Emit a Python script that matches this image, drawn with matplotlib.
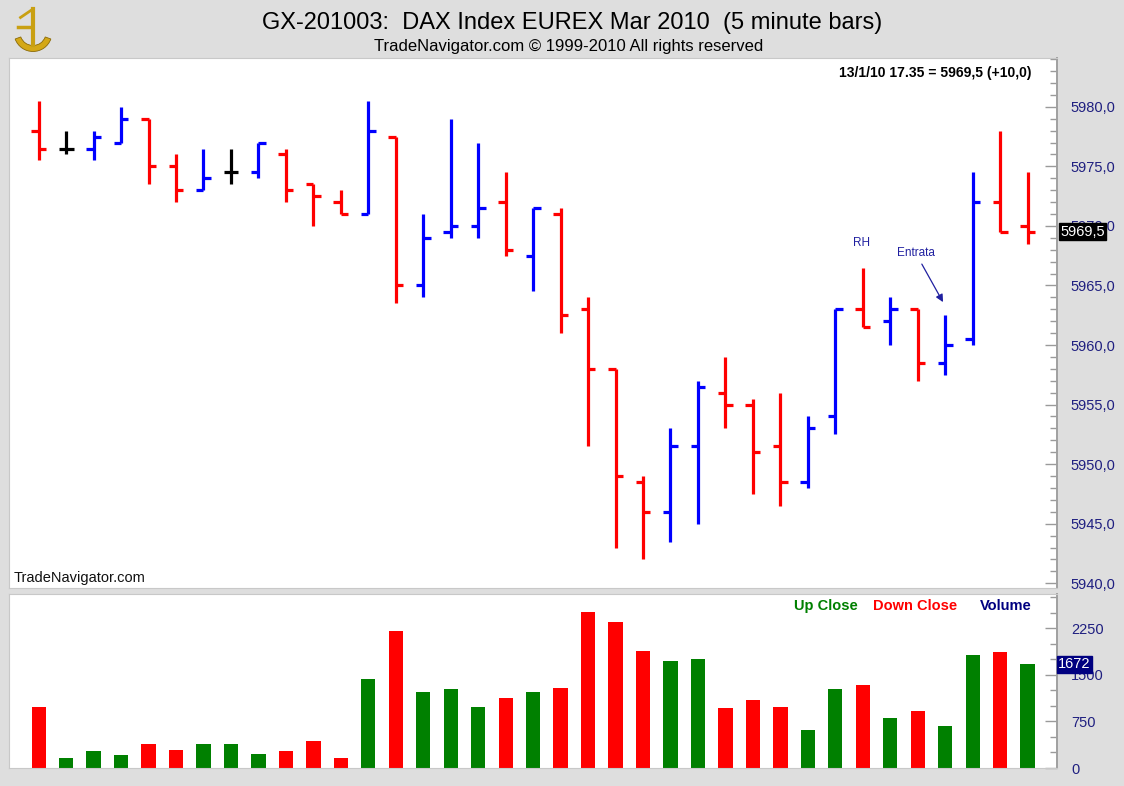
import matplotlib

matplotlib.use("Agg")
import matplotlib.pyplot as plt
import numpy as np
from matplotlib.patches import Wedge
from matplotlib.ticker import MultipleLocator

# 5 minute bars, DAX future Mar 2010 (13/1/10)
opens = [5978.0, 5976.5, 5976.5, 5977.0, 5979.0, 5975.0, 5973.0, 5974.5, 5974.5, 5976.0,
         5973.5, 5972.0, 5971.0, 5977.5, 5965.0, 5969.5, 5970.0, 5972.0, 5967.5, 5971.0,
         5963.0, 5958.0, 5948.5, 5946.0, 5951.5, 5956.0, 5955.0, 5951.5, 5948.5, 5954.0,
         5963.0, 5962.0, 5963.0, 5958.5, 5960.5, 5972.0, 5970.0]
highs = [5980.5, 5978.0, 5978.0, 5980.0, 5979.0, 5976.0, 5976.5, 5976.5, 5977.0, 5976.5,
         5973.5, 5973.0, 5980.5, 5977.5, 5971.0, 5979.0, 5977.0, 5974.5, 5971.5, 5971.5,
         5964.0, 5958.0, 5949.0, 5953.0, 5957.0, 5959.0, 5955.5, 5956.0, 5954.0, 5963.0,
         5966.5, 5964.0, 5963.0, 5962.5, 5974.5, 5978.0, 5974.5]
lows = [5975.5, 5976.0, 5975.5, 5977.0, 5973.5, 5972.0, 5973.0, 5973.5, 5974.0, 5972.0,
        5970.0, 5971.0, 5971.0, 5963.5, 5964.0, 5969.0, 5969.0, 5967.5, 5964.5, 5961.0,
        5951.5, 5943.0, 5942.0, 5943.5, 5945.0, 5953.0, 5947.5, 5946.5, 5948.0, 5952.5,
        5961.5, 5960.0, 5957.0, 5957.5, 5960.0, 5969.5, 5968.5]
closes = [5976.5, 5976.5, 5977.5, 5979.0, 5975.0, 5973.0, 5974.0, 5974.5, 5977.0, 5973.0,
          5972.5, 5971.0, 5978.0, 5965.0, 5969.0, 5970.0, 5971.5, 5968.0, 5971.5, 5962.5,
          5958.0, 5949.0, 5946.0, 5951.5, 5956.5, 5955.0, 5951.0, 5948.5, 5953.0, 5963.0,
          5961.5, 5963.0, 5958.5, 5960.0, 5972.0, 5969.5, 5969.5]
bar_dirs = ["dn", "eq", "up", "up", "dn", "dn", "up", "eq", "up", "dn",
            "dn", "dn", "up", "dn", "up", "up", "up", "dn", "up", "dn",
            "dn", "dn", "dn", "up", "up", "dn", "dn", "dn", "up", "up",
            "dn", "up", "dn", "up", "up", "dn", "dn"]

volumes = [985, 160, 275, 210, 385, 295, 385, 385, 230, 275,
           430, 160, 1425, 2200, 1225, 1270, 985, 1120, 1225, 1290,
           2505, 2355, 1885, 1715, 1760, 965, 1090, 985, 610, 1270,
           1335, 805, 915, 670, 1825, 1865, 1672]
vol_dirs = ["dn", "up", "up", "up", "dn", "dn", "up", "up", "up", "dn",
            "dn", "dn", "up", "dn", "up", "up", "up", "dn", "up", "dn",
            "dn", "dn", "dn", "up", "up", "dn", "dn", "dn", "up", "up",
            "dn", "up", "dn", "up", "up", "dn", "up"]

price_ticks = [5940, 5945, 5950, 5955, 5960, 5965, 5970, 5975, 5980]
price_labels = ["5940,0", "5945,0", "5950,0", "5955,0", "5960,0", "5965,0", "5970,0", "5975,0", "5980,0"]
vol_ticks = [0, 750, 1500, 2250]
vol_labels = ["0", "750", "1500", "2250"]

last_price = 5969.5
last_volume = 1672

BG = "#dedede"
NAVY = "#1f1f80"
bar_col = {"up": "#0000ff", "dn": "#ff0000", "eq": "#000000"}
vol_col = {"up": "#008000", "dn": "#ff0000"}
NARROW = ["Liberation Sans Narrow", "Liberation Sans", "DejaVu Sans"]

plt.rcParams["font.family"] = ["Liberation Sans", "DejaVu Sans"]

W, H = 1124, 786
fig = plt.figure(figsize=(W / 100, H / 100), dpi=100)
fig.patch.set_facecolor(BG)

left, right = 9, 1057
ax = fig.add_axes([left / W, 1 - 588 / H, (right - left) / W, (588 - 58) / H])
axv = fig.add_axes([left / W, 1 - 768 / H, (right - left) / W, (768 - 594) / H])

x = np.arange(len(opens))
xlim = (-1.08, 37.07)

# price bars (open tick left, close tick right)
cols = [bar_col[d] for d in bar_dirs]
tick = 0.27
ax.vlines(x, lows, highs, colors=cols, linewidth=2.3)
ax.hlines(opens, x - tick, x, colors=cols, linewidth=2.3)
ax.hlines(closes, x, x + tick, colors=cols, linewidth=2.3)
ax.set_xlim(*xlim)
ax.set_ylim(5939.6, 5984.1)

# volume bars
axv.bar(x, volumes, width=0.52, color=[vol_col[d] for d in vol_dirs])
axv.set_xlim(*xlim)
axv.set_ylim(0, 2800)

for a in (ax, axv):
    a.set_facecolor("white")
    a.set_xticks([])
    a.yaxis.tick_right()
    a.tick_params(axis="y", which="both", direction="in", colors="#9a9a9a",
                  labelcolor=NAVY, labelsize=10.5, pad=10)
    a.tick_params(axis="y", which="major", length=9, width=1)
    a.tick_params(axis="y", which="minor", length=5, width=1)
    for s in ("top", "left", "bottom"):
        a.spines[s].set_color("#c8c8c8")
    a.spines["right"].set_color("#a0a0a0")
    a.spines["right"].set_linewidth(1.4)

ax.set_yticks(price_ticks)
ax.set_yticklabels(price_labels)
ax.yaxis.set_minor_locator(MultipleLocator(1.0))
axv.set_yticks(vol_ticks)
axv.set_yticklabels(vol_labels)
axv.yaxis.set_minor_locator(MultipleLocator(250))

# last value boxes
ax.text(1.003, last_price, f"{last_price:.1f}".replace(".", ","), transform=ax.get_yaxis_transform(),
        ha="left", va="center", color="white", fontsize=10.5, zorder=10,
        bbox=dict(boxstyle="square,pad=0.1", fc="black", ec="black"))
axv.text(1.001, last_volume, str(last_volume), transform=axv.get_yaxis_transform(),
         ha="left", va="center", color="white", fontsize=10.5, zorder=10,
         bbox=dict(boxstyle="square,pad=0.1", fc="#000080", ec="#000080"))

# annotations
ax.text(29.96, 5968.6, "RH", color="#2020a0", fontsize=8.5, ha="center", va="center")
ax.text(31.94, 5967.75, "Entrata", color="#2020a0", fontsize=8.5, ha="center", va="center",
        family=NARROW)
ax.annotate("", xy=(32.97, 5963.4), xytext=(32.1, 5967.0),
            arrowprops=dict(arrowstyle="-|>", color="#2020a0", lw=0.9, mutation_scale=11))

ax.text(0.004, 0.006, "TradeNavigator.com", transform=ax.transAxes, fontsize=10.5,
        ha="left", va="bottom", color="#111111")
ax.text(0.976, 0.985, "13/1/10 17.35 = 5969,5 (+10,0)", transform=ax.transAxes,
        fontsize=10, weight="bold", ha="right", va="top", family=NARROW)

# volume legend
axv.text(0.976, 0.97, "Volume", transform=axv.transAxes, color="#000080",
         fontsize=10.5, weight="bold", ha="right", va="top")
axv.text(0.905, 0.97, "Down Close", transform=axv.transAxes, color="#ff0000",
         fontsize=10.5, weight="bold", ha="right", va="top")
axv.text(0.810, 0.97, "Up Close", transform=axv.transAxes, color="#008000",
         fontsize=10.5, weight="bold", ha="right", va="top")

# header
fig.text(572 / W, 1 - 23 / H, "GX-201003:  DAX Index EUREX Mar 2010  (5 minute bars)",
         ha="center", va="center", fontsize=17, family=NARROW)
fig.text(569 / W, 1 - 47 / H, "TradeNavigator.com \u00a9 1999-2010 All rights reserved",
         ha="center", va="center", fontsize=12, family=NARROW)

# small gold emblem top left
lax = fig.add_axes([8 / W, 1 - 55 / H, 50 / W, 50 / H])
lax.set_xlim(0, 1)
lax.set_ylim(0, 1)
lax.axis("off")
lax.add_patch(Wedge((0.5, 0.45), 0.38, 200, 340, width=0.12, fc="#d4a817", ec="#8a6a08", lw=0.6))
lax.plot([0.5, 0.5], [0.2, 0.92], color="#c9a012", lw=3)
lax.plot([0.25, 0.5], [0.75, 0.92], color="#c9a012", lw=2)
lax.plot([0.2, 0.45], [0.55, 0.55], color="#c9a012", lw=2.5)

fig.savefig("out.png", dpi=100, facecolor=BG)
